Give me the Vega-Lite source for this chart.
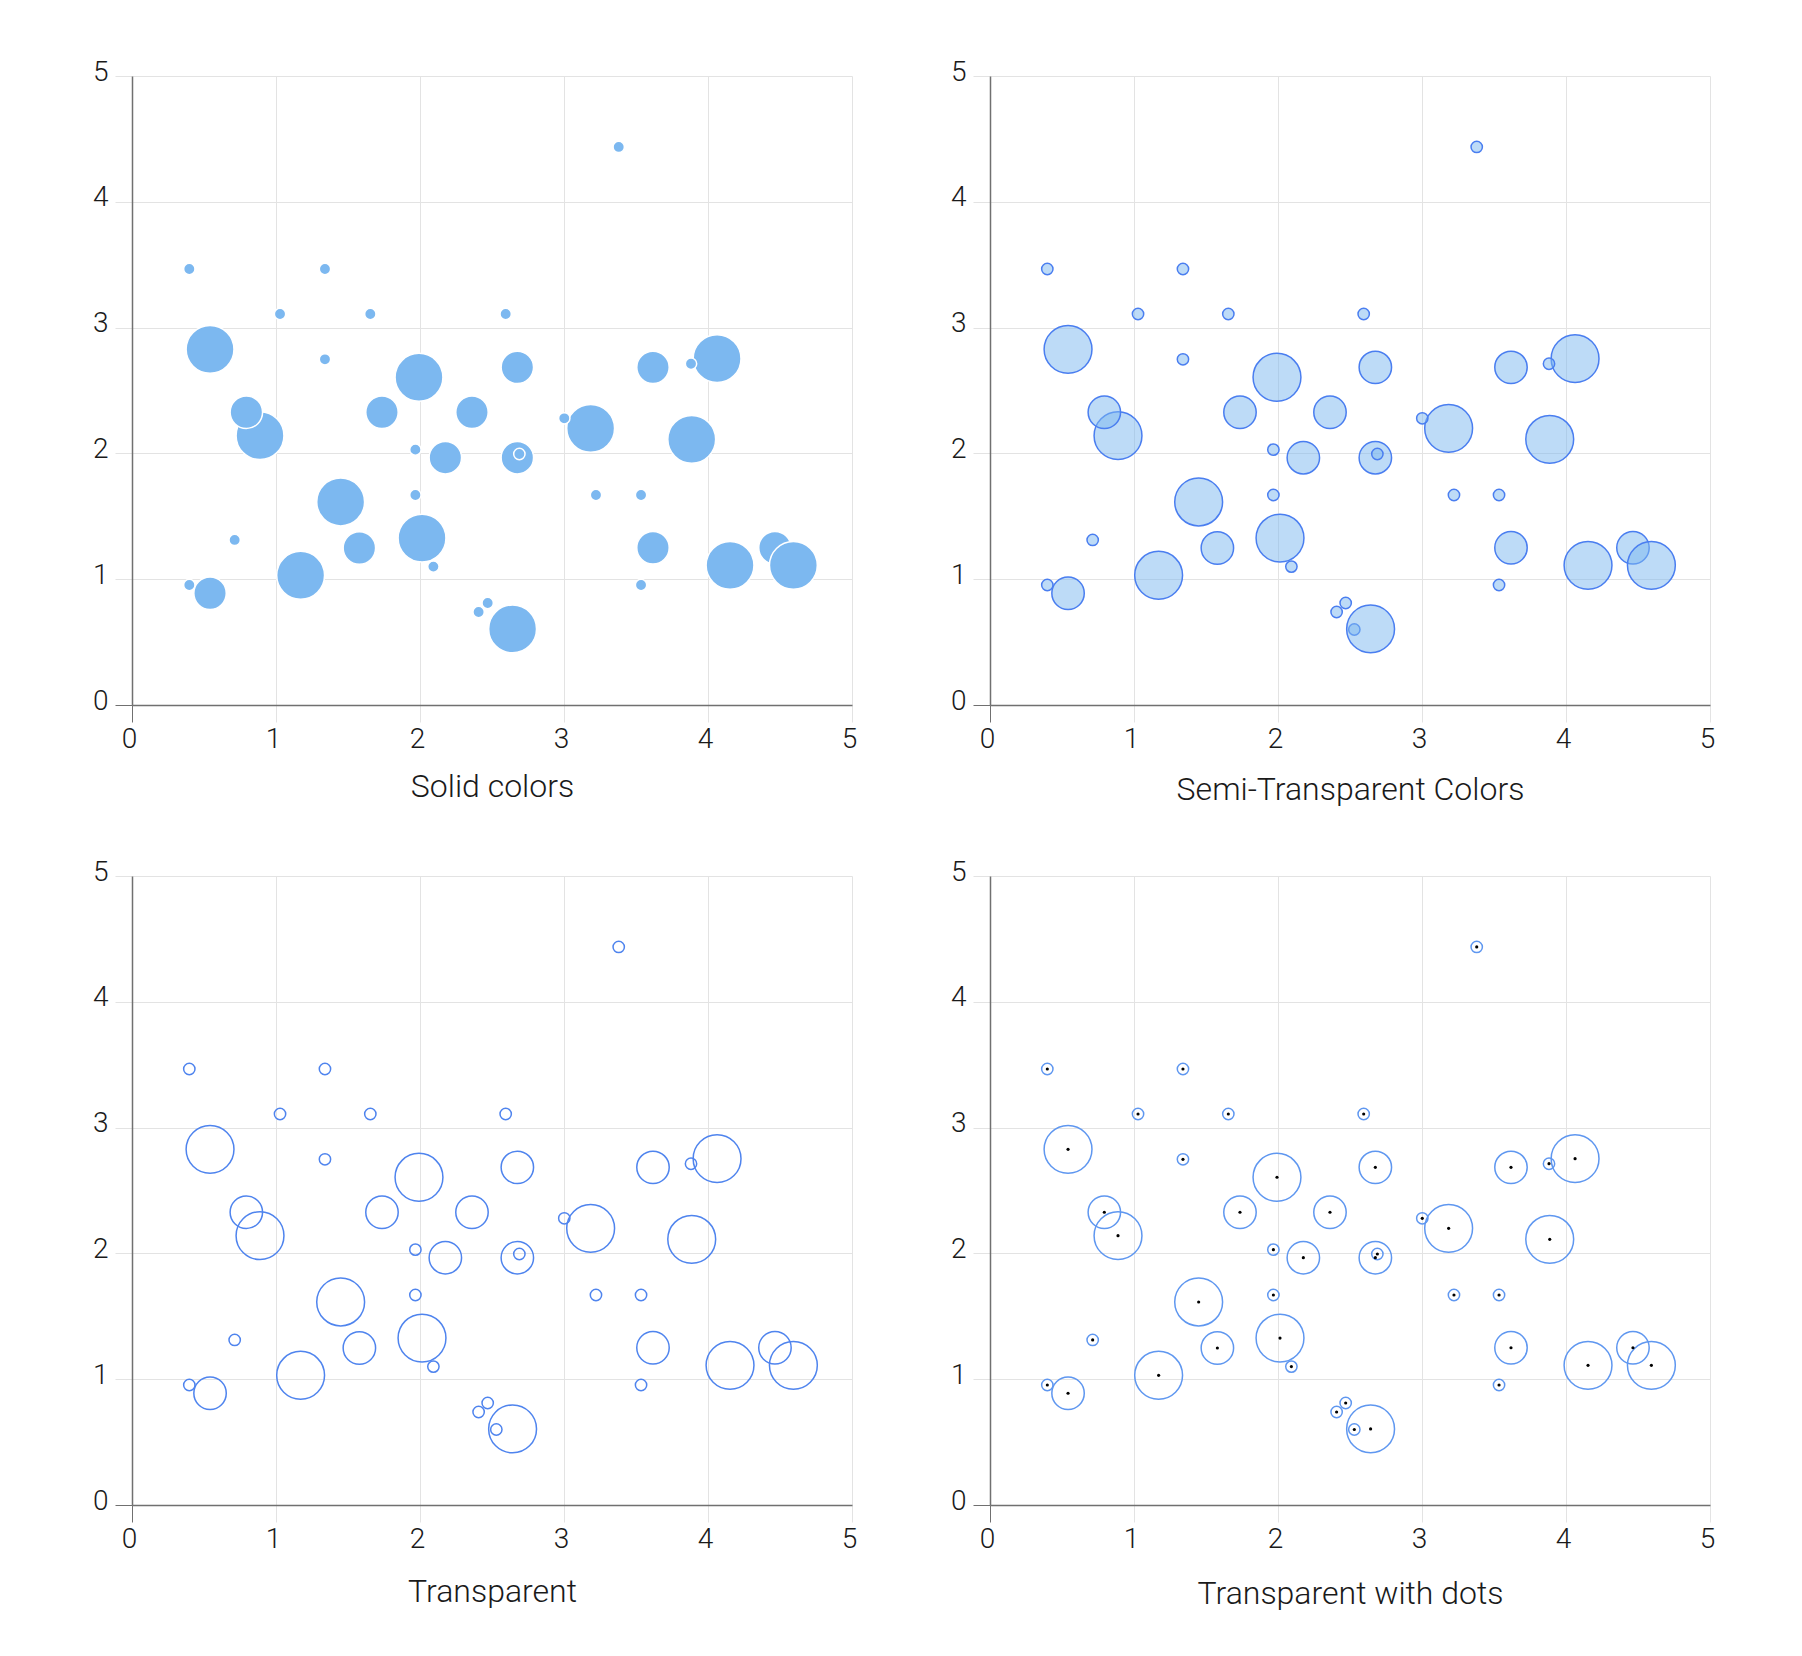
{
  "$schema": "https://vega.github.io/schema/vega-lite/v6.json",
  "background": "white",
  "padding": {"left": 92, "top": 58, "right": 20, "bottom": 20},
  "datasets": {
    "pts": [
      {"x": 2.53, "y": 0.60, "r": 6.4},
      {"x": 4.465, "y": 1.25, "r": 18.3},
      {"x": 0.542, "y": 2.827, "r": 27.0},
      {"x": 1.993, "y": 2.605, "r": 27.0},
      {"x": 4.063, "y": 2.753, "r": 27.0},
      {"x": 3.185, "y": 2.199, "r": 27.0},
      {"x": 3.887, "y": 2.112, "r": 27.0},
      {"x": 4.153, "y": 1.110, "r": 27.0},
      {"x": 4.593, "y": 1.110, "r": 27.0},
      {"x": 0.889, "y": 2.141, "r": 27.0},
      {"x": 1.449, "y": 1.614, "r": 27.0},
      {"x": 2.014, "y": 1.327, "r": 27.0},
      {"x": 1.171, "y": 1.031, "r": 27.0},
      {"x": 2.643, "y": 0.605, "r": 27.0},
      {"x": 2.676, "y": 2.684, "r": 18.3},
      {"x": 0.794, "y": 2.327, "r": 18.3},
      {"x": 1.736, "y": 2.327, "r": 18.3},
      {"x": 2.361, "y": 2.327, "r": 18.3},
      {"x": 3.618, "y": 2.684, "r": 18.3},
      {"x": 3.618, "y": 1.250, "r": 18.3},
      {"x": 2.176, "y": 1.966, "r": 18.3},
      {"x": 2.676, "y": 1.966, "r": 18.3},
      {"x": 1.579, "y": 1.248, "r": 18.3},
      {"x": 0.542, "y": 0.888, "r": 18.3},
      {"x": 0.398, "y": 3.466, "r": 6.4},
      {"x": 1.340, "y": 3.466, "r": 6.4},
      {"x": 1.028, "y": 3.108, "r": 6.4},
      {"x": 1.655, "y": 3.108, "r": 6.4},
      {"x": 2.595, "y": 3.108, "r": 6.4},
      {"x": 1.340, "y": 2.748, "r": 6.4},
      {"x": 3.380, "y": 4.436, "r": 6.4},
      {"x": 3.882, "y": 2.713, "r": 6.4},
      {"x": 3.002, "y": 2.279, "r": 6.4},
      {"x": 3.222, "y": 1.669, "r": 6.4},
      {"x": 3.535, "y": 1.669, "r": 6.4},
      {"x": 3.535, "y": 0.954, "r": 6.4},
      {"x": 1.968, "y": 2.030, "r": 6.4},
      {"x": 2.690, "y": 1.995, "r": 6.4},
      {"x": 1.968, "y": 1.669, "r": 6.4},
      {"x": 0.713, "y": 1.312, "r": 6.4},
      {"x": 2.093, "y": 1.100, "r": 6.4},
      {"x": 0.398, "y": 0.954, "r": 6.4},
      {"x": 2.470, "y": 0.811, "r": 6.4},
      {"x": 2.407, "y": 0.739, "r": 6.4}
    ]
  },
  "config": {
    "view": {"stroke": null},
    "font": "Roboto",
    "axis": {
      "grid": true,
      "gridColor": "#e3e3e3",
      "gridWidth": 1,
      "domainColor": "#707070",
      "domainWidth": 1.5,
      "tickSize": 17,
      "tickWidth": 1,
      "labelFlush": false,
      "labelOverlap": false,
      "labelFont": "Roboto",
      "labelFontSize": 28,
      "labelFontWeight": 300,
      "labelColor": "#1a1a1a",
      "labelPadding": 7,
      "titleFont": "Roboto",
      "titleFontSize": 32,
      "titleFontWeight": 300,
      "titleColor": "#1a1a1a",
      "titlePadding": 17
    },
    "axisX": {"labelOffset": -3, "labelPadding": 3.5},
    "axisY": {"labelOffset": -4}
  },
  "columns": 2,
  "spacing": {"row": 171, "column": 138},
  "bounds": "flush",
  "concat": [
    {
      "width": 720, "height": 629,
      "data": {"name": "pts"},
      "mark": {"type": "circle", "fill": "#7cb8f0", "fillOpacity": 1, "stroke": "#ffffff", "strokeWidth": 1.5, "opacity": 1},
      "encoding": {
        "x": {"field": "x", "type": "quantitative", "scale": {"domain": [0, 5], "nice": false},
          "axis": {"title": "Solid colors", "titlePadding": 18, "values": [0, 1, 2, 3, 4, 5], "tickColor": {"condition": {"test": "datum.value === 0", "value": "#707070"}, "value": "#e3e3e3"}}},
        "y": {"field": "y", "type": "quantitative", "scale": {"domain": [0, 5], "nice": false},
          "axis": {"title": null, "values": [0, 1, 2, 3, 4, 5], "tickColor": {"condition": {"test": "datum.value === 0", "value": "#707070"}, "value": "#e3e3e3"}}},
        "size": {"field": "r", "type": "quantitative", "scale": {"type": "pow", "exponent": 2, "domain": [0, 10], "range": [0, 314.16]}, "legend": null}
      }
    },
    {
      "width": 720, "height": 629,
      "data": {"name": "pts"},
      "mark": {"type": "circle", "fill": "#7cb8f0", "fillOpacity": 0.5, "stroke": "#4a7ef0", "strokeWidth": 1.5, "opacity": 1},
      "encoding": {
        "x": {"field": "x", "type": "quantitative", "scale": {"domain": [0, 5], "nice": false},
          "axis": {"title": "Semi-Transparent Colors", "titlePadding": 21, "values": [0, 1, 2, 3, 4, 5], "tickColor": {"condition": {"test": "datum.value === 0", "value": "#707070"}, "value": "#e3e3e3"}}},
        "y": {"field": "y", "type": "quantitative", "scale": {"domain": [0, 5], "nice": false},
          "axis": {"title": null, "values": [0, 1, 2, 3, 4, 5], "tickColor": {"condition": {"test": "datum.value === 0", "value": "#707070"}, "value": "#e3e3e3"}}},
        "size": {"field": "r", "type": "quantitative", "scale": {"type": "pow", "exponent": 2, "domain": [0, 10], "range": [0, 314.16]}, "legend": null}
      }
    },
    {
      "width": 720, "height": 629,
      "data": {"name": "pts"},
      "mark": {"type": "point", "shape": "circle", "filled": false, "stroke": "#4f84ee", "strokeWidth": 1.5, "opacity": 1},
      "encoding": {
        "x": {"field": "x", "type": "quantitative", "scale": {"domain": [0, 5], "nice": false},
          "axis": {"title": "Transparent", "titlePadding": 23, "values": [0, 1, 2, 3, 4, 5], "tickColor": {"condition": {"test": "datum.value === 0", "value": "#707070"}, "value": "#e3e3e3"}}},
        "y": {"field": "y", "type": "quantitative", "scale": {"domain": [0, 5], "nice": false},
          "axis": {"title": null, "values": [0, 1, 2, 3, 4, 5], "tickColor": {"condition": {"test": "datum.value === 0", "value": "#707070"}, "value": "#e3e3e3"}}},
        "size": {"field": "r", "type": "quantitative", "scale": {"type": "pow", "exponent": 2, "domain": [0, 10], "range": [0, 314.16]}, "legend": null}
      }
    },
    {
      "width": 720, "height": 629,
      "data": {"name": "pts"},
      "encoding": {
        "x": {"field": "x", "type": "quantitative", "scale": {"domain": [0, 5], "nice": false},
          "axis": {"title": "Transparent with dots", "titlePadding": 25, "values": [0, 1, 2, 3, 4, 5], "tickColor": {"condition": {"test": "datum.value === 0", "value": "#707070"}, "value": "#e3e3e3"}}},
        "y": {"field": "y", "type": "quantitative", "scale": {"domain": [0, 5], "nice": false},
          "axis": {"title": null, "values": [0, 1, 2, 3, 4, 5], "tickColor": {"condition": {"test": "datum.value === 0", "value": "#707070"}, "value": "#e3e3e3"}}}
      },
      "layer": [
        {
          "mark": {"type": "point", "shape": "circle", "filled": false, "stroke": "#5f97f0", "strokeWidth": 1.5, "opacity": 1},
          "encoding": {
            "size": {"field": "r", "type": "quantitative", "scale": {"type": "pow", "exponent": 2, "domain": [0, 10], "range": [0, 314.16]}, "legend": null}
          }
        },
        {
          "mark": {"type": "circle", "fill": "#000000", "size": 10, "opacity": 1}
        }
      ]
    }
  ]
}
